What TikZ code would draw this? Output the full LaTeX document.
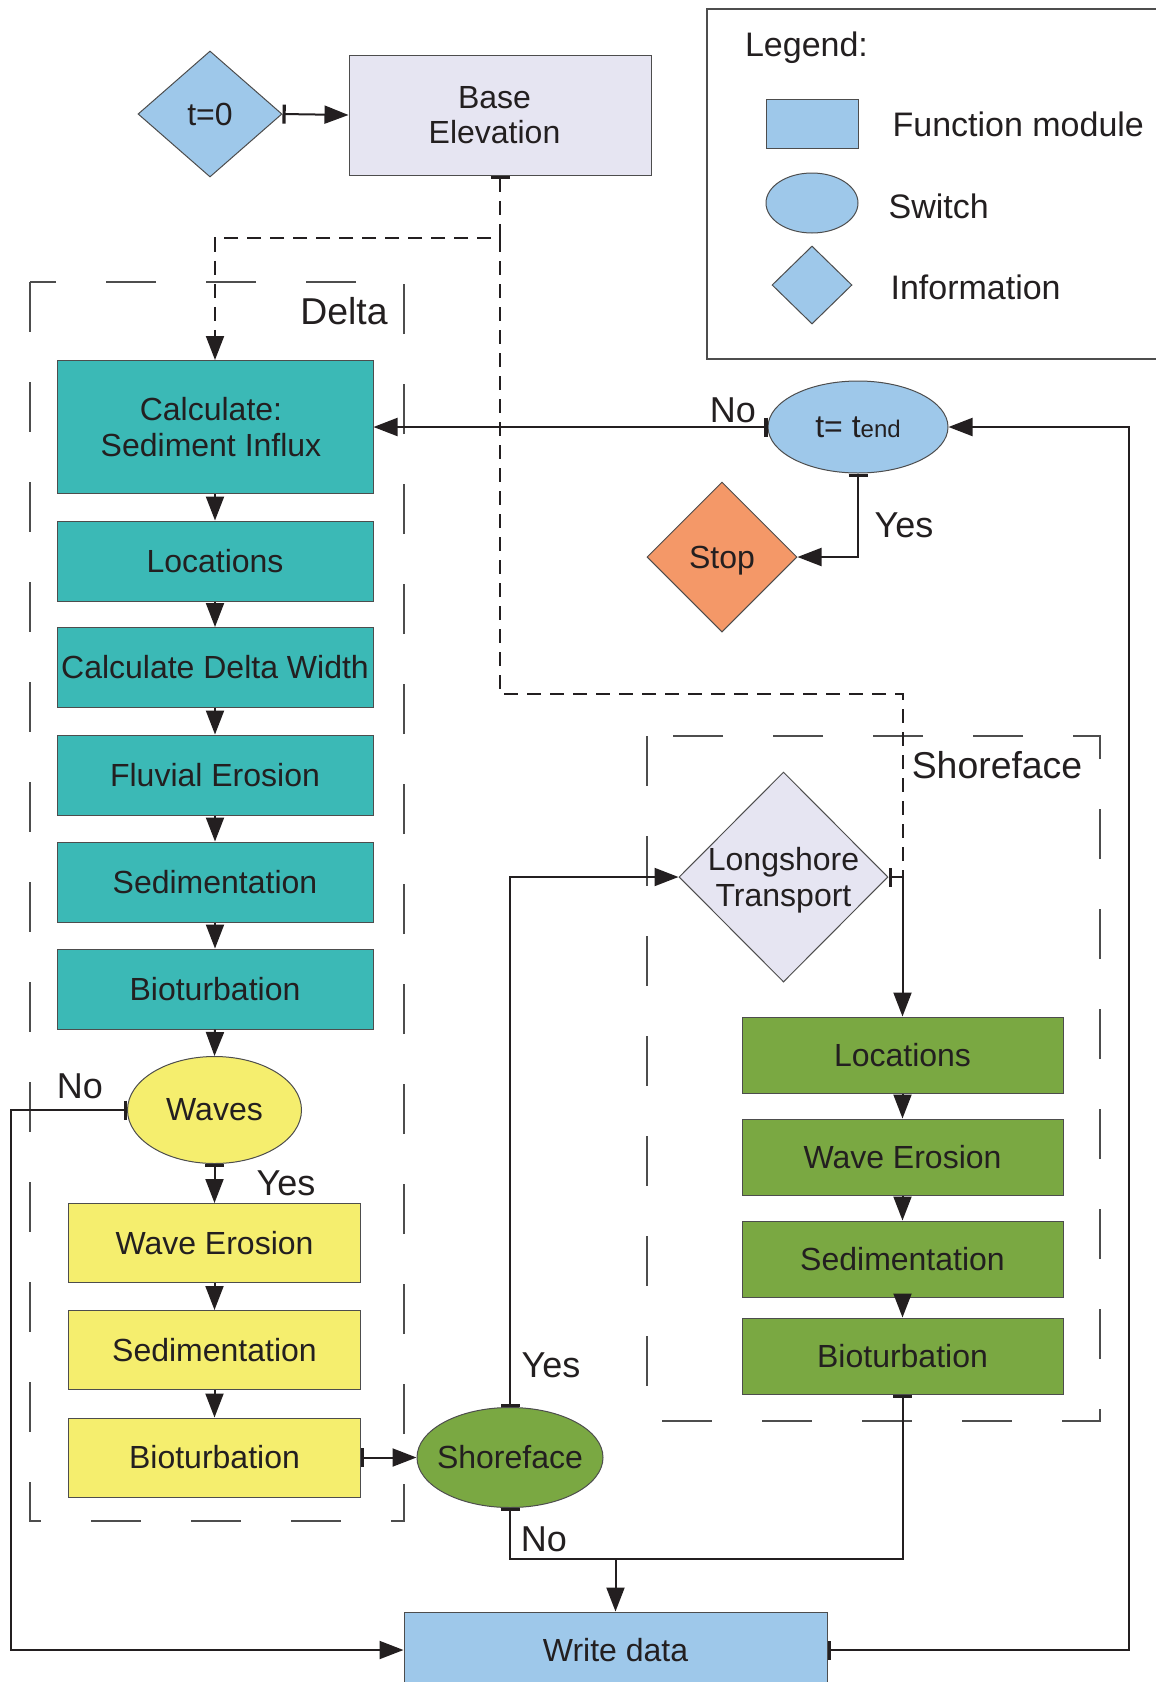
\documentclass[tikz,border=0pt]{standalone}
\usepackage{fontspec}
\setmainfont{Liberation Sans}
\usetikzlibrary{arrows.meta,shapes.geometric}
\definecolor{lblue}{HTML}{9EC8EA}
\definecolor{lav}{HTML}{E6E5F2}
\definecolor{teal2}{HTML}{3BB9B6}
\definecolor{yel}{HTML}{F5EE6E}
\definecolor{grn}{HTML}{7AA842}
\definecolor{org}{HTML}{F49868}
\definecolor{ink}{HTML}{231F20}
\definecolor{bord}{HTML}{4D4D4D}
\tikzset{
  every node/.style={text=ink, font=\fontsize{16}{17.7}\selectfont},
  box/.style={rectangle, draw=bord, line width=0.5pt, inner sep=0pt, align=center},
  tbox/.style={box, fill=teal2, minimum width=158pt, minimum height=40pt},
  ybox/.style={box, fill=yel, minimum width=146pt, minimum height=39.5pt},
  gbox/.style={box, fill=grn, minimum width=160.5pt, minimum height=38pt},
  ell/.style={ellipse, draw=bord, line width=0.5pt, inner sep=0pt},
  dia/.style={diamond, draw=bord, line width=0.5pt, inner sep=0pt},
  con/.style={draw=ink, line width=1pt},
  dsh/.style={draw=ink, line width=1pt, dash pattern=on 7pt off 4.5pt},
  grp/.style={draw=bord, line width=0.6pt, dash pattern=on 25pt off 25pt},
  lbl/.style={font=\fontsize{18}{20}\selectfont},
  arr/.style={-{Triangle[length=12pt,width=9pt]}},
  barr/.style={{Bar[width=9.5pt,line width=1.6pt]}-{Triangle[length=12pt,width=9pt]}},
  bb/.style={{Bar[width=9.5pt,line width=1.6pt]}-{Bar[width=9.5pt,line width=1.6pt]}},
}
\begin{document}
\begin{tikzpicture}[x=0.5pt,y=-0.5pt]
\useasboundingbox (0,0) rectangle (1156,1682);
\clip (0,0) rectangle (1156,1682);

% group frames
\draw[grp] (30,282) rectangle (404,1521);
\draw[grp] (647,736) rectangle (1100,1421);
\node[font=\fontsize{18.7}{21}\selectfont] (dlab) at (344,311) {Delta};
\node[font=\fontsize{18.7}{21}\selectfont] (slab) at (997,765) {Shoreface};

% legend
\draw[bord, line width=0.6pt] (1170,9) -- (707,9) -- (707,359) -- (1170,359);
\node[font=\fontsize{17}{20}\selectfont, anchor=base west] (lg) at (738,56) {Legend:};
\node[box, fill=lblue, minimum width=46pt, minimum height=24.5pt] (lrect) at (812,123.5) {};
\node[ell, fill=lblue, minimum width=46pt, minimum height=30pt] (lell) at (812,203) {};
\node[dia, fill=lblue, minimum width=40pt, minimum height=39pt] (ldia) at (812,285) {};
\node[font=\fontsize{17}{20}\selectfont, anchor=west] (lt1) at (885.5,124) {Function module};
\node[font=\fontsize{17}{20}\selectfont, anchor=west] (lt2) at (881.5,206) {Switch};
\node[font=\fontsize{17}{20}\selectfont, anchor=west] (lt3) at (883.5,287) {Information};

% top
\node[dia, fill=lblue, minimum width=72pt, minimum height=63pt] (t0) at (210,114) {t=0};
\node[box, fill=lav, minimum width=151pt, minimum height=60pt] (base) at (500,115) {\hspace*{-5.5pt}Base\\\hspace*{-5.5pt}Elevation};

% delta column
\node[box, fill=teal2, minimum width=158pt, minimum height=66.5pt] (csi) at (215,427) {\hspace*{-4pt}Calculate:\\\hspace*{-4pt}Sediment Influx};
\node[tbox] (loc) at (215,561) {Locations};
\node[tbox] (cdw) at (215,667.5) {Calculate Delta Width};
\node[tbox] (fe) at (215,775) {Fluvial Erosion};
\node[tbox] (sed) at (215,882) {Sedimentation};
\node[tbox] (bio) at (215,989) {Bioturbation};
\node[ell, fill=yel, minimum width=87pt, minimum height=53.5pt] (waves) at (214.5,1110) {Waves};
\node[ybox] (ywe) at (214.5,1243) {Wave Erosion};
\node[ybox] (ysed) at (214.5,1350) {Sedimentation};
\node[ybox] (ybio) at (214.5,1457.5) {Bioturbation};

% switches and others
\node[ell, fill=grn, minimum width=93pt, minimum height=50pt] (sf) at (510,1457.5) {\makebox[0pt]{Shoreface}};
\node[box, fill=lblue, minimum width=211.5pt, minimum height=38pt] (wd) at (615.5,1650) {Write data};
\node[ell, fill=lblue, minimum width=90pt, minimum height=46pt] (tend) at (858,427) {\makebox[0pt]{t= t{\fontsize{12}{14}\selectfont end}}};
\node[dia, fill=org, minimum width=75pt, minimum height=75pt, text depth=0pt] (stop) at (722,557) {Stop};
\node[dia, fill=lav, minimum width=104.5pt, minimum height=105pt] (lt) at (783.5,877) {\makebox[0pt]{\smash{\raisebox{-6.5pt}{\begin{tabular}{@{}c@{}}Longshore\\Transport\end{tabular}}}}};

% shoreface column
\node[gbox] (gloc) at (902.5,1055) {Locations};
\node[gbox] (gwe) at (902.5,1157) {Wave Erosion};
\node[gbox] (gsed) at (902.5,1259) {Sedimentation};
\node[gbox] (gbio) at (902.5,1356) {Bioturbation};

% coordinates
\coordinate (j1) at (500,238);
\coordinate (j2) at (500,694);
\coordinate (jl) at (903,877);
\coordinate (l1) at (11,1110);
\coordinate (r1) at (1129,427);
\coordinate (m) at (615.5,1559);

% dashed connectors
\draw[dsh, barr] (base.south) -- (j1) -| (csi.north);
\draw[dsh] (j1) -- (j2) -| (jl);

% solid connectors
\draw[con, barr] (t0.east) -- (base.west);
\draw[con, arr] (csi.south) -- (loc.north);
\draw[con, arr] (loc.south) -- (cdw.north);
\draw[con, arr] (cdw.south) -- (fe.north);
\draw[con, arr] (fe.south) -- (sed.north);
\draw[con, arr] (sed.south) -- (bio.north);
\draw[con, arr] (bio.south) -- (waves.north);
\draw[con, barr] (waves.south) -- (ywe.north);
\draw[con, barr] (waves.west) -- (l1) |- (wd.west);
\draw[con, arr] (ywe.south) -- (ysed.north);
\draw[con, arr] (ysed.south) -- (ybio.north);
\draw[con, barr] (ybio.east) -- (sf.west);
\draw[con, barr] (sf.north) |- (lt.west);
\draw[con, barr] (lt.east) -| (gloc.north);
\draw[con, arr] (gloc.south) -- (gwe.north);
\draw[con, arr] (gwe.south) -- (gsed.north);
\draw[con, arr] (gsed.south) -- (gbio.north);
\draw[con, bb] (sf.south) |- (m) -| (gbio.south);
\draw[con, arr] (m) -- (wd.north);
\draw[con, barr] (wd.east) -| (r1) -- (tend.east);
\draw[con, barr] (tend.west) -- (csi.east);
\draw[con, barr] (tend.south) |- (stop.east);

% labels
\node[lbl] (no1) at (733,410) {No};
\node[lbl] (yes1) at (904,525) {Yes};
\node[lbl] (no2) at (80,1086) {No};
\node[lbl] (yes2) at (286,1183) {Yes};
\node[lbl] (yes3) at (551,1365) {Yes};
\node[lbl] (no3) at (544,1539) {No};
\end{tikzpicture}
\end{document}
